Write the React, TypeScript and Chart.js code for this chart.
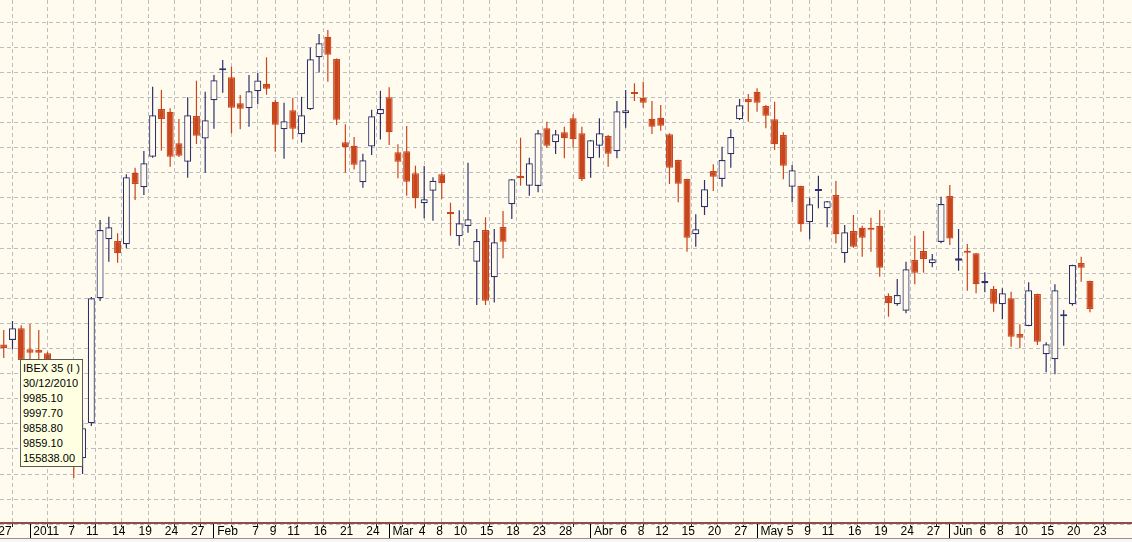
import React, { useEffect, useRef } from 'react';
import { Chart, registerables } from 'chart.js';

Chart.register(...registerables);

// Trading days (Spanish market), Dec 27 2010 .. Jun 23 2011
const monthDays: [string, number[]][] = [
  ['2010-12', [27, 28, 29, 30]],
  ['2011-01', [3, 4, 5, 6, 7, 10, 11, 12, 13, 14, 17, 18, 19, 20, 21, 24, 25, 26, 27, 28, 31]],
  ['2011-02', [1, 2, 3, 4, 7, 8, 9, 10, 11, 14, 15, 16, 17, 18, 21, 22, 23, 24, 25, 28]],
  ['2011-03', [1, 2, 3, 4, 7, 8, 9, 10, 11, 14, 15, 16, 17, 18, 21, 22, 23, 24, 25, 28, 29, 30, 31]],
  ['2011-04', [1, 4, 5, 6, 7, 8, 11, 12, 13, 14, 15, 18, 19, 20, 21, 26, 27, 28, 29]],
  ['2011-05', [2, 3, 4, 5, 6, 9, 10, 11, 12, 13, 16, 17, 18, 19, 20, 23, 24, 25, 26, 27, 30, 31]],
  ['2011-06', [1, 2, 3, 6, 7, 8, 9, 10, 13, 14, 15, 16, 17, 20, 21, 22, 23]],
];
const dates: string[] = monthDays.flatMap(([m, ds]) => ds.map((d) => `${m}-${String(d).padStart(2, '0')}`));

const open = [
  9870.0, 9920.5, 9938.4, 9985.1, 9901.4, 9898.6, 9885.4, 9811.0, 9719.3, 9651.6,
  9467.1, 9606.6, 10104.6, 10339.6, 10332.9, 10319.7, 10605.0, 10546.8, 10668.7, 10858.7,
  10848.0, 10722.1, 10648.8, 10830.9, 10741.2, 10893.8, 11012.9, 10985.4, 10881.9, 10861.5,
  10929.3, 10959.1, 10887.4, 10777.9, 10854.0, 10757.9, 10857.5, 11064.7, 11146.8, 11057.9,
  10726.5, 10712.1, 10566.7, 10709.3, 10837.6, 10905.4, 10686.2, 10690.2, 10602.6, 10483.1,
  10533.3, 10598.6, 10448.4, 10351.6, 10392.6, 10250.4, 10376.7, 10188.2, 10388.6, 10479.1,
  10593.0, 10553.2, 10552.0, 10781.9, 10726.1, 10765.9, 10821.7, 10761.9, 10662.3, 10712.5,
  10751.2, 10690.2, 10841.6, 10924.5, 10903.8, 10820.1, 10824.1, 10757.9, 10655.6, 10579.9,
  10359.6, 10467.1, 10611.7, 10579.9, 10678.3, 10817.7, 10898.6, 10927.3, 10870.7, 10817.7,
  10755.2, 10549.2, 10552.0, 10407.4, 10532.5, 10463.1, 10516.1, 10283.9, 10372.7, 10385.8,
  10384.6, 10393.8, 10113.7, 10080.7, 10055.2, 10257.2, 10293.0, 10244.0, 10328.9, 10512.1,
  10254.4, 10293.0, 10283.9, 10164.3, 10141.6, 10080.7, 10104.6, 9962.3, 9994.2, 10121.7,
  9881.5, 9861.6, 10032.9, 10080.7, 10245.2, 10173.5,
];
const high = [
  9935.0, 9978.3, 10014.1, 9997.7, 10002.2, 9978.3, 9891.8, 9834.9, 9747.2, 9679.5,
  9619.7, 10109.8, 10416.5, 10429.7, 10363.5, 10598.6, 10624.9, 10691.4, 10947.6, 10934.4,
  10861.5, 10818.9, 10905.4, 10971.5, 10927.7, 10994.2, 11054.0, 11027.3, 10914.5, 10994.2,
  11002.2, 11064.7, 10894.6, 10883.8, 10903.8, 10907.3, 11103.8, 11157.5, 11173.5, 11059.9,
  10798.2, 10747.2, 10680.7, 10856.0, 10931.3, 10945.2, 10718.1, 10791.0, 10632.9, 10631.7,
  10586.6, 10606.6, 10485.4, 10455.2, 10644.8, 10380.7, 10427.3, 10380.7, 10452.4, 10579.9,
  10744.4, 10664.7, 10775.1, 10808.1, 10775.1, 10788.2, 10837.6, 10788.2, 10735.2, 10821.7,
  10755.2, 10890.6, 10934.4, 10961.1, 10967.5, 10890.6, 10874.7, 10761.9, 10656.8, 10581.1,
  10439.2, 10575.9, 10638.4, 10708.5, 10777.9, 10898.6, 10918.5, 10941.2, 10874.7, 10887.8,
  10765.9, 10635.6, 10553.2, 10505.4, 10593.0, 10492.2, 10571.9, 10396.6, 10436.4, 10393.8,
  10425.7, 10456.4, 10124.5, 10181.5, 10250.4, 10354.0, 10372.7, 10281.1, 10509.4, 10556.0,
  10380.7, 10320.9, 10285.0, 10208.2, 10153.6, 10144.4, 10130.9, 10001.0, 10168.3, 10122.9,
  9929.3, 10160.3, 10058.0, 10238.4, 10270.3, 10174.7,
];
const low = [
  9840.0, 9866.7, 9900.6, 9858.8, 9850.8, 9858.8, 9787.0, 9691.4, 9619.7, 9388.6,
  9404.6, 9595.8, 10093.8, 10250.4, 10246.4, 10303.8, 10496.2, 10516.1, 10664.7, 10692.6,
  10628.9, 10667.5, 10585.0, 10719.3, 10605.0, 10779.9, 10923.7, 10761.9, 10777.9, 10788.2,
  10877.9, 10915.7, 10688.6, 10660.7, 10738.0, 10725.3, 10854.8, 11004.2, 10967.5, 10795.0,
  10605.0, 10617.7, 10545.2, 10675.5, 10737.2, 10715.3, 10582.7, 10513.3, 10463.1, 10423.3,
  10413.7, 10500.2, 10354.0, 10314.1, 10365.9, 10077.9, 10077.9, 10087.8, 10263.9, 10420.5,
  10553.2, 10513.3, 10526.9, 10704.6, 10679.5, 10662.3, 10704.6, 10571.9, 10585.0, 10664.7,
  10628.9, 10662.3, 10784.2, 10890.6, 10863.9, 10759.1, 10772.3, 10559.9, 10487.0, 10290.2,
  10310.1, 10436.4, 10532.1, 10549.2, 10624.9, 10814.9, 10808.1, 10848.0, 10781.9, 10695.4,
  10578.7, 10487.0, 10369.9, 10339.6, 10463.1, 10387.4, 10323.7, 10246.4, 10306.2, 10270.3,
  10290.2, 10190.6, 10031.3, 10075.1, 10044.8, 10160.4, 10206.6, 10228.1, 10323.7, 10316.9,
  10214.5, 10134.8, 10124.5, 10128.5, 10051.2, 10020.9, 9911.7, 9905.4, 9993.0, 9918.5,
  9809.8, 9801.8, 9915.7, 10075.1, 10170.7, 10048.8,
];
const close = [
  9905.0, 9906.6, 9985.1, 9859.1, 9887.8, 9887.8, 9811.0, 9719.3, 9651.6, 9460.4,
  9586.6, 10104.6, 10376.7, 10387.4, 10283.9, 10586.6, 10559.9, 10642.4, 10833.6, 10818.9,
  10668.7, 10672.7, 10833.6, 10752.4, 10813.7, 10973.1, 11015.3, 10863.9, 10859.9, 10929.3,
  10972.3, 10939.6, 10796.2, 10809.7, 10780.3, 10833.6, 11056.7, 11120.5, 11075.1, 10816.1,
  10706.2, 10636.4, 10654.8, 10829.7, 10858.7, 10765.9, 10648.8, 10569.1, 10503.0, 10499.0,
  10573.1, 10562.7, 10439.2, 10403.4, 10419.3, 10332.9, 10095.0, 10327.7, 10330.1, 10578.7,
  10582.7, 10642.4, 10761.9, 10712.5, 10757.9, 10742.0, 10738.0, 10579.9, 10734.0, 10761.9,
  10680.7, 10849.6, 10853.6, 10918.5, 10883.8, 10788.2, 10792.2, 10624.9, 10561.1, 10346.0,
  10379.5, 10538.8, 10589.0, 10655.6, 10747.2, 10873.5, 10885.4, 10883.8, 10832.1, 10718.1,
  10632.9, 10614.5, 10399.4, 10479.1, 10534.0, 10491.0, 10359.6, 10367.5, 10310.1, 10346.0,
  10377.9, 10226.5, 10084.7, 10117.7, 10220.1, 10206.6, 10261.1, 10259.9, 10480.3, 10342.8,
  10263.9, 10286.2, 10160.4, 10173.5, 10083.1, 10124.5, 9951.6, 9947.6, 10136.4, 9931.7,
  9921.3, 10136.4, 10040.8, 10237.2, 10226.5, 10061.9,
];

const tickDates = [
  '2010-12-27', '2011-01-03', '2011-01-07', '2011-01-11', '2011-01-14', '2011-01-19', '2011-01-24', '2011-01-27',
  '2011-02-01', '2011-02-07', '2011-02-09', '2011-02-11', '2011-02-16', '2011-02-21', '2011-02-24',
  '2011-03-01', '2011-03-04', '2011-03-08', '2011-03-10', '2011-03-15', '2011-03-18', '2011-03-23', '2011-03-28',
  '2011-04-01', '2011-04-06', '2011-04-08', '2011-04-12', '2011-04-15', '2011-04-20', '2011-04-27',
  '2011-05-02', '2011-05-05', '2011-05-09', '2011-05-11', '2011-05-16', '2011-05-19', '2011-05-24', '2011-05-27',
  '2011-06-01', '2011-06-06', '2011-06-08', '2011-06-10', '2011-06-15', '2011-06-20', '2011-06-23',
];
const tickLabels = [
  '27', '2011', '7', '11', '14', '19', '24', '27',
  'Feb', '7', '9', '11', '16', '21', '24',
  'Mar', '4', '8', '10', '15', '18', '23', '28',
  'Abr', '6', '8', '12', '15', '20', '27',
  'May', '5', '9', '11', '16', '19', '24', '27',
  'Jun', '6', '8', '10', '15', '20', '23',
];

const tooltipLines = ['IBEX 35 (I )', '30/12/2010', '9985.10', '9997.70', '9858.80', '9859.10', '155838.00'];

// view window (axis ranges)
const X_MIN = 0.5753;
const X_MAX = 129.799;
const Y_MIN = 9209.4;
const Y_MAX = 11293.05;
const GRID_FIRST = 11204.6;
const GRID_STEP = 100;
const GRID_COUNT = 21;

const BG = '#FFFBEF';
const UP = '#2C306C';
const DOWN = '#C9451C';
const GRID = '#BEBEBE';
const FONT = "'Liberation Sans', Arial, sans-serif";

export default function App() {
  const ref = useRef<HTMLCanvasElement | null>(null);

  useEffect(() => {
    if (!ref.current) return;
    const isUp = dates.map((_, j) => close[j] >= open[j]);
    const tickIdx = tickDates.map((d) => dates.indexOf(d));
    const major = tickLabels.map((l) => !/^\d{1,2}$/.test(l));
    const gridVals = Array.from({ length: GRID_COUNT }, (_, n) => GRID_FIRST - GRID_STEP * n);

    const decor = {
      id: 'decor',
      afterDraw(chart: any) {
        const ctx = chart.ctx;
        const xs = chart.scales.x;
        const bottom = chart.chartArea.bottom;
        ctx.save();
        ctx.strokeStyle = '#000';
        ctx.lineWidth = 1;
        tickIdx.forEach((j, k) => {
          if (!major[k]) return;
          const px = Math.round(xs.getPixelForValue(j) - 0.5) + 0.5;
          ctx.beginPath();
          ctx.moveTo(px, bottom + 1);
          ctx.lineTo(px, 538);
          ctx.stroke();
        });
        ctx.fillStyle = '#A08A8A';
        ctx.fillRect(0, 538, chart.width, 1);
        ctx.fillStyle = '#F6F6F6';
        ctx.fillRect(0, 539, chart.width, 3);
        ctx.restore();
      },
    };

    const chart = new Chart(ref.current, {
      type: 'bar',
      data: {
        datasets: [
          {
            label: 'range',
            data: dates.map((_, j) => ({ x: j, y: [low[j], high[j]] })) as any,
            backgroundColor: isUp.map((u) => (u ? UP : DOWN)),
            borderWidth: 0,
            barThickness: 1.2,
            minBarLength: 1,
            grouped: false,
            inflateAmount: 0,
            order: 2,
          } as any,
          {
            label: 'body',
            data: dates.map((_, j) => ({ x: j, y: [open[j], close[j]] })) as any,
            backgroundColor: isUp.map((u) => (u ? BG : DOWN)),
            borderColor: isUp.map((u) => (u ? UP : DOWN)),
            borderWidth: 1.2,
            borderSkipped: false,
            barThickness: 7,
            minBarLength: 2,
            grouped: false,
            inflateAmount: 0,
            order: 1,
          } as any,
        ],
      },
      options: {
        animation: false,
        responsive: false,
        events: [],
        layout: { padding: { left: 0, right: 0, top: 0, bottom: 5.6 } },
        plugins: { legend: { display: false }, tooltip: { enabled: false } },
        scales: {
          x: {
            type: 'linear',
            min: X_MIN,
            max: X_MAX,
            offset: false,
            afterBuildTicks: (s: any) => {
              s.ticks = tickIdx.map((v) => ({ value: v }));
            },
            afterFit: (s: any) => {
              s.paddingLeft = 0;
              s.paddingRight = 0;
            },
            ticks: {
              autoSkip: false,
              maxRotation: 0,
              minRotation: 0,
              align: 'start',
              padding: 0,
              color: '#000',
              font: { family: FONT, size: 12, lineHeight: '9.4px' },
              callback: (_v: any, i: number) => ' ' + tickLabels[i],
            },
            grid: {
              color: GRID,
              lineWidth: 1,
              drawTicks: true,
              tickLength: 4,
              tickColor: '#222',
              tickWidth: 1,
              tickBorderDash: [],
            },
            border: { display: true, color: '#8E4D4D', width: 2, dash: [4, 3] },
          } as any,
          y: {
            type: 'linear',
            min: Y_MIN,
            max: Y_MAX,
            afterBuildTicks: (s: any) => {
              s.ticks = gridVals.map((v) => ({ value: v }));
            },
            afterFit: (s: any) => {
              s.width = 0;
              s.paddingTop = 0;
              s.paddingBottom = 0;
            },
            ticks: { display: false },
            grid: { color: GRID, lineWidth: 1, drawTicks: false },
            border: { display: false, dash: [4, 3] },
          } as any,
        },
      },
      plugins: [decor],
    });
    return () => chart.destroy();
  }, []);

  return (
    <div style={{ position: 'fixed', left: 0, top: 0, width: 1132, height: 542, background: BG, overflow: 'hidden' }}>
      <canvas ref={ref} width={1132} height={542} style={{ display: 'block', width: 1132, height: 542 }} />
      <div
        style={{
          position: 'absolute',
          left: 20,
          top: 359,
          width: 63,
          height: 108,
          boxSizing: 'border-box',
          border: '1px solid #5A5A5A',
          background: '#FFFFE1',
          color: '#000',
          font: `11px ${FONT}`,
          lineHeight: '15px',
          padding: '1px 0 0 2px',
          whiteSpace: 'pre',
        }}
      >
        {tooltipLines.map((t, k) => (
          <div key={k}>{t}</div>
        ))}
      </div>
    </div>
  );
}
